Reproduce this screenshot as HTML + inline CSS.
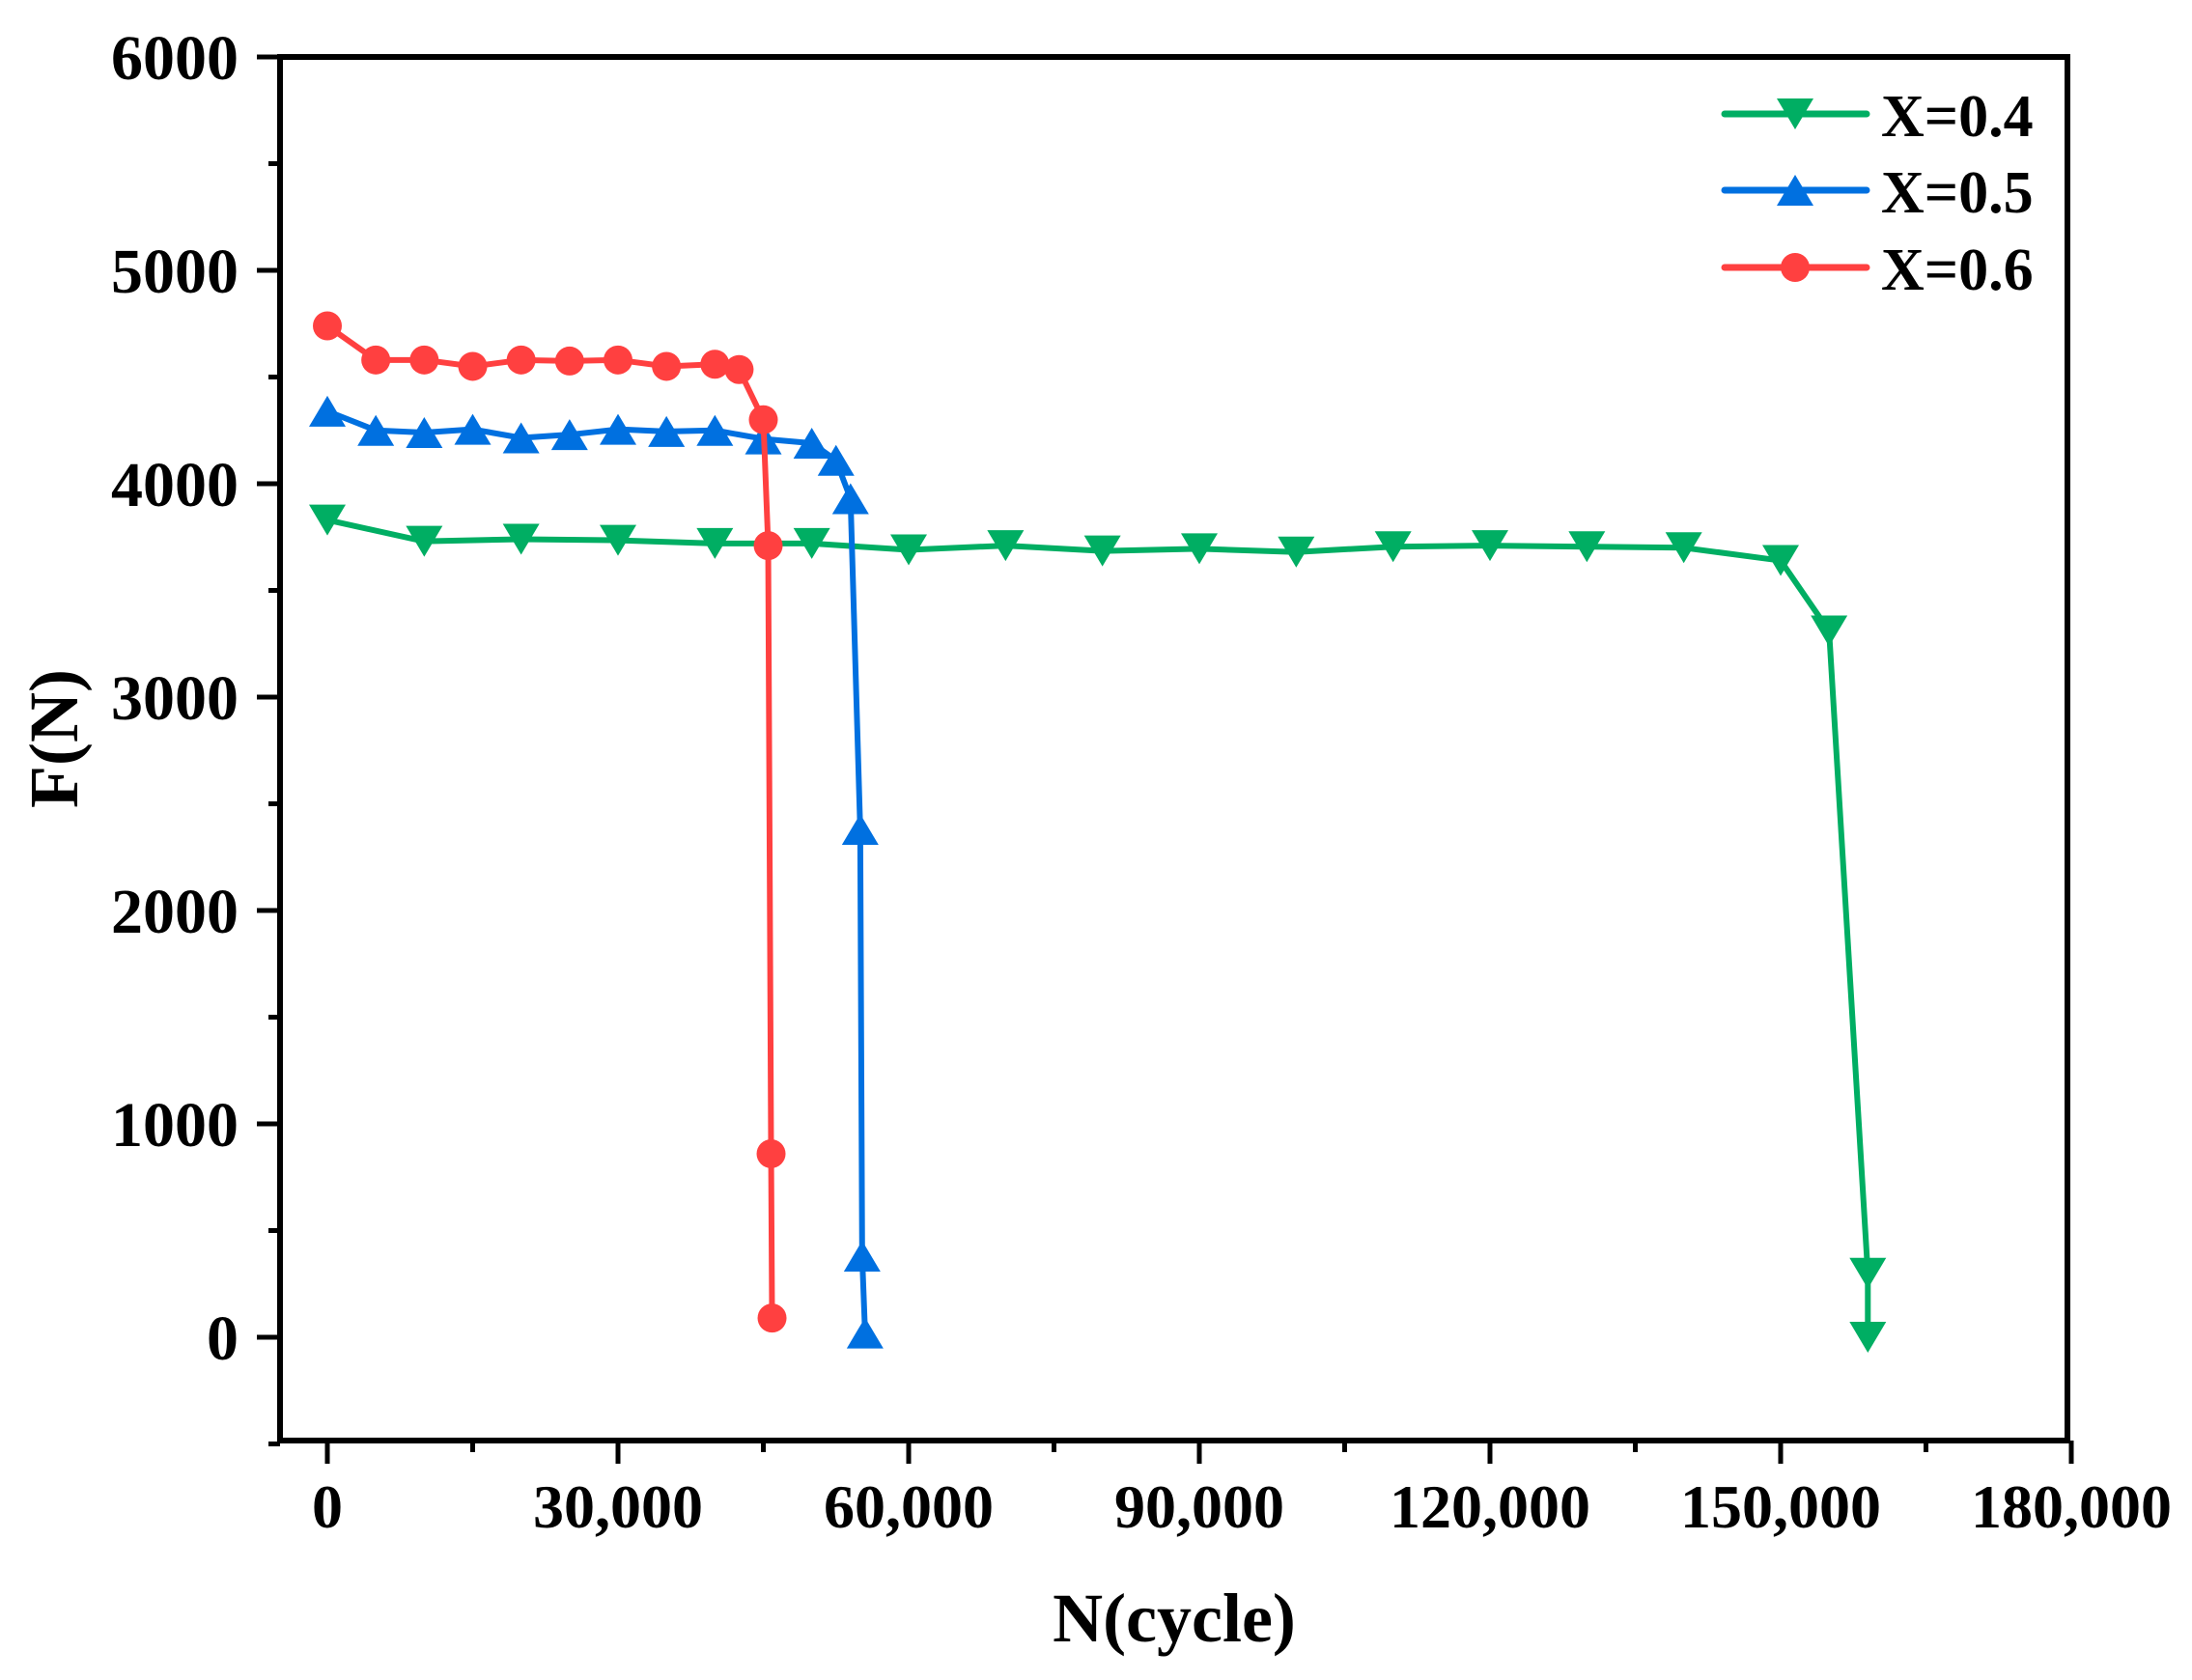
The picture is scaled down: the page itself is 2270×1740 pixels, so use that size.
<!DOCTYPE html>
<html><head><meta charset="utf-8"><style>
html,body{margin:0;padding:0;background:#fff;}
svg{display:block;}
text{font-family:"Liberation Serif",serif;font-weight:bold;fill:#000;}
</style></head><body>
<svg id="s" width="2270" height="1740" xmlns="http://www.w3.org/2000/svg">
<rect width="2270" height="1740" fill="#fff"/>
<g id="plot"></g>
<rect x="290" y="59" width="1851" height="1433" fill="none" stroke="#000" stroke-width="6"/>
<g id="ticks" stroke="#000" stroke-width="5"></g>
<g font-size="66" text-anchor="end">
<text x="247" y="82">6000</text>
<text x="247" y="303">5000</text>
<text x="247" y="524">4000</text>
<text x="247" y="745">3000</text>
<text x="247" y="966">2000</text>
<text x="247" y="1187">1000</text>
<text x="247" y="1408">0</text>
</g>
<g font-size="64" text-anchor="middle">
<text x="339" y="1582">0</text>
<text x="640" y="1582">30,000</text>
<text x="941" y="1582">60,000</text>
<text x="1242" y="1582">90,000</text>
<text x="1543" y="1582">120,000</text>
<text x="1844" y="1582">150,000</text>
<text x="2145" y="1582">180,000</text>
</g>
<text x="1216" y="1700" font-size="72" text-anchor="middle">N(cycle)</text>
<text transform="translate(80,765) rotate(-90)" font-size="72" text-anchor="middle">F(N)</text>
<g font-size="62">
<text x="1948" y="141">X=0.4</text>
<text x="1948" y="220">X=0.5</text>
<text x="1948" y="300">X=0.6</text>
</g>
<g id="leg"></g>
</svg>
<script>
var NS="http://www.w3.org/2000/svg";
function el(p,t,a){var e=document.createElementNS(NS,t);for(var k in a)e.setAttribute(k,a[k]);p.appendChild(e);return e;}
function X(n){return 339+n*301/30000;}
function Y(f){return 1385-f*0.221;}
var tk=document.getElementById('ticks');
for(var i=-500;i<=6000;i+=500){var y=Y(i);var L=(i%1000===0)?24:12;el(tk,'line',{x1:290-L,y1:y,x2:290,y2:y});}
for(var n=0;n<=180000;n+=15000){var x=X(n);var L=(n%30000===0)?24:12;el(tk,'line',{x1:x,y1:1492,x2:x,y2:1492+L});}
var G='#00AE63',B='#0070E0',R='#FF4040';
var green=[[0,3830],[10000,3730],[20000,3740],[30000,3735],[40000,3720],[50000,3720],[60000,3690],[70000,3710],[80000,3685],[90000,3695],[100000,3680],[110000,3705],[120000,3710],[130000,3705],[140000,3700],[150000,3640],[155000,3310],[159000,300],[159000,0]];
var blue=[[0,4340],[5000,4250],[10000,4240],[15000,4255],[20000,4215],[25000,4230],[30000,4255],[35000,4245],[40000,4250],[45000,4210],[50000,4190],[52500,4110],[54000,3930],[55000,2380],[55200,380],[55500,20]];
var red=[[0,4740],[5000,4580],[10000,4580],[15000,4550],[20000,4580],[25000,4575],[30000,4580],[35000,4550],[40000,4560],[42500,4535],[45000,4300],[45500,3710],[45800,860],[45900,90]];
var p=document.getElementById('plot');
function tri(g,x,y,c,down){var w=19,h=16;var pts=down?[[x-w,y-h],[x+w,y-h],[x,y+h]]:[[x-w,y+h],[x+w,y+h],[x,y-h]];el(g,'polygon',{points:pts.map(function(q){return q.join(',')}).join(' '),fill:c});}
function series(d,c,m){var pts=d.map(function(q){return X(q[0])+','+Y(q[1])}).join(' ');
el(p,'polyline',{points:pts,fill:'none',stroke:c,'stroke-width':6,'stroke-linejoin':'round'});
d.forEach(function(q){var x=X(q[0]),y=Y(q[1]);if(m==='c')el(p,'circle',{cx:x,cy:y,r:15,fill:c});else tri(p,x,y,c,m==='d');});}
series(green,G,'d');series(blue,B,'u');series(red,R,'c');
var lg=document.getElementById('leg');
[[118,G,'d'],[197,B,'u'],[277,R,'c']].forEach(function(a){el(lg,'line',{x1:1786,y1:a[0],x2:1933,y2:a[0],stroke:a[1],'stroke-width':7,'stroke-linecap':'round'});
if(a[2]==='c')el(lg,'circle',{cx:1859,cy:a[0],r:15,fill:a[1]});else tri(lg,1859,a[0],a[1],a[2]==='d');});
</script>
</body></html>
